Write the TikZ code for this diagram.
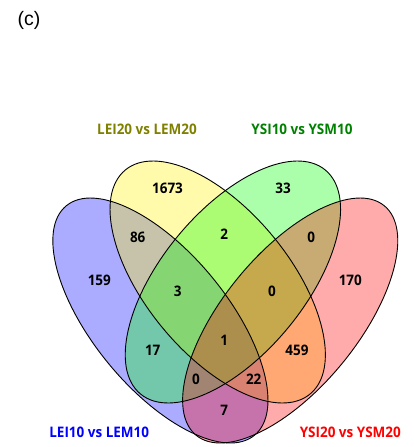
\documentclass[tikz,border=0pt]{standalone}
\usepackage{fontspec}
\setmainfont{Open Sans}[FakeStretch=0.93]
\newfontfamily\panelfont{Liberation Sans}
\begin{document}
\begin{tikzpicture}[x=1pt,y=1pt,
  count/.style={font=\fontsize{14.5}{16}\selectfont\bfseries, text=black, inner sep=0pt},
  setname/.style={font=\fontsize{14.5}{16}\selectfont\bfseries, inner sep=0pt},
  outline/.style={draw=black, line width=0.9pt},
  tint/.style={fill=#1, fill opacity=0.33},
  ellB/.style={shift={(160.4,-320.5)}, rotate=-50.65},
  ellY/.style={shift={(217.7,-282)}, rotate=-50.5},
  ellG/.style={shift={(232.9,-282)}, rotate=50.5},
  ellR/.style={shift={(290.2,-320.5)}, rotate=50.65}]
\useasboundingbox (0,0) rectangle (414,-447);

% translucent set fills
\path[ellB, tint=blue]   (0,0) ellipse [x radius=148.4, y radius=67.4];
\path[ellY, tint=yellow] (0,0) ellipse [x radius=145.2, y radius=71.7];
\path[ellG, tint=green]  (0,0) ellipse [x radius=145.2, y radius=71.7];
\path[ellR, tint=red]    (0,0) ellipse [x radius=148.4, y radius=67.4];

% set outlines on top
\path[ellB, outline] (0,0) ellipse [x radius=148.4, y radius=67.4];
\path[ellY, outline] (0,0) ellipse [x radius=145.2, y radius=71.7];
\path[ellG, outline] (0,0) ellipse [x radius=145.2, y radius=71.7];
\path[ellR, outline] (0,0) ellipse [x radius=148.4, y radius=67.4];

% region counts
\node[count] (nY)    at (167.5,-188)   {1673};
\node[count] (nG)    at (283,-188)     {33};
\node[count] (nBY)   at (137.7,-237)   {86};
\node[count] (nYG)   at (224.3,-234)   {2};
\node[count] (nGR)   at (311.3,-237.3) {0};
\node[count] (nB)    at (99.3,-280.7)  {159};
\node[count] (nR)    at (350.3,-280.7) {170};
\node[count] (nBYG)  at (177.7,-291.7) {3};
\node[count] (nYGR)  at (272,-291.7)   {0};
\node[count] (nBG)   at (152.7,-350.7) {17};
\node[count] (nYR)   at (297,-350.7)   {459};
\node[count] (nAll)  at (224.3,-340.7) {1};
\node[count] (nBGR)  at (196,-379.3)   {0};
\node[count] (nBYR)  at (253.7,-379.3) {22};
\node[count] (nBR)   at (224.3,-410)   {7};

% set names
\node[setname, text={rgb,255:red,128;green,128;blue,0}] (tY) at (147,-129)   {LEI20 vs LEM20};
\node[setname, text={rgb,255:red,0;green,128;blue,0}]   (tG) at (302,-129)   {YSI10 vs YSM10};
\node[setname, text=blue] (tB) at (99.2,-432.5)  {LEI10 vs LEM10};
\node[setname, text=red]  (tR) at (350.3,-432.5) {YSI20 vs YSM20};

% panel tag
\node[font=\panelfont\fontsize{19.5}{22}\selectfont, inner sep=0pt] (tag) at (29,-20.5) {(c)};
\end{tikzpicture}
\end{document}
